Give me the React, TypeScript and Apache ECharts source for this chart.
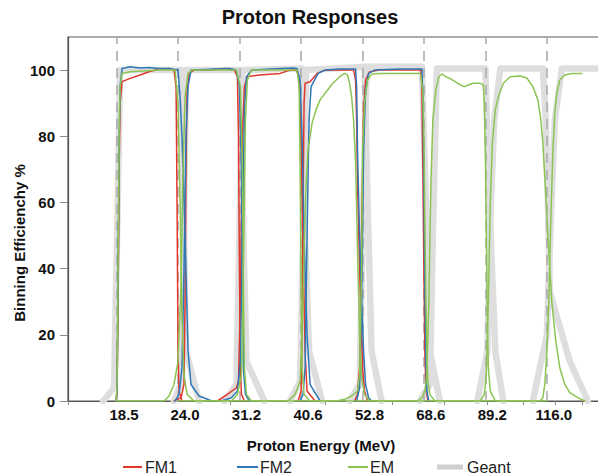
import { useEffect, useRef } from 'react';
import * as echarts from 'echarts';

const FONT = '"Liberation Sans", Arial, sans-serif';

const boundaryEnergies = [18.5, 24.0, 31.2, 40.6, 52.8, 68.6, 89.2, 116.0];
const boundaryLabels = ['18.5', '24.0', '31.2', '40.6', '52.8', '68.6', '89.2', '116.0'];
const xTickValues = [15, 30, 45, 60, 75, 90, 105, 120, 135];
const yTickValues = [0, 20, 40, 60, 80, 100];

// FM1 (red) – one curve per energy channel: [MeV, %]
const fm1A = [[18.42,0],[18.5,3],[18.58,30],[18.66,70],[18.74,90],[18.9,96.5],[19.56,97.5],[20.41,98.5],[21.2,99.5],[22.13,100.3],[23.1,100.5],[23.59,100],[23.8,95],[23.9,60],[24.0,15],[24.1,3],[24.41,0]];
const fm1B = [[23.59,0],[24.31,1],[24.62,5],[24.73,30],[24.83,70],[24.94,93],[25.15,99],[25.7,100],[27.45,100],[29.26,100.5],[30.54,100],[30.93,98],[31.07,80],[31.2,40],[31.33,10],[31.47,2],[31.87,0]];
const fm1C = [[28.4,0],[29.64,2],[30.8,4],[31.07,6],[31.33,30],[31.6,80],[31.87,95],[32.28,98],[33.98,98.5],[37.12,99],[38.74,100],[39.74,100],[40.26,98],[40.6,80],[40.95,45],[41.3,15],[41.65,3],[43.1,0]];
const fm1D = [[40.08,0],[40.6,3],[40.77,20],[40.95,60],[41.12,90],[41.3,96],[42.19,96.5],[43.47,99],[44.98,100],[47.86,100],[50.81,100],[51.25,97],[51.47,85],[51.68,65],[52.13,40],[52.58,20],[52.8,10],[53.25,3],[53.94,0]];
const fm1E = [[51.03,0],[51.68,2],[52.13,10],[52.58,50],[53.03,88],[53.48,97],[54.4,99.5],[56.78,100],[61.92,100],[67.73,100],[68.02,95],[68.31,70],[68.6,40],[68.89,15],[69.19,4],[69.78,0]];

// FM2 (blue)
const fm2A = [[18.42,0],[18.5,4],[18.58,35],[18.66,78],[18.74,95],[18.9,100.5],[19.56,101],[20.41,100.6],[21.2,100.8],[22.13,100.5],[23.1,100.5],[24.0,100],[24.21,92],[24.41,80],[24.73,50],[25.05,15],[25.37,5],[26.25,1.5],[27.75,0]];
const fm2B = [[23.7,0],[24.1,2],[24.41,10],[24.62,40],[24.83,80],[25.05,95],[25.37,100],[29.9,100.5],[30.8,100],[31.2,95],[31.47,70],[31.6,35],[31.73,10],[32.01,2],[32.56,0]];
const fm2C = [[28.89,0],[30.15,1],[30.93,3],[31.33,12],[31.6,50],[31.87,88],[32.15,98],[32.84,100],[35.5,100.3],[39.24,100.6],[39.91,100.5],[40.43,97],[40.77,80],[41.12,50],[41.65,20],[42.19,5],[44.03,0]];
const fm2D = [[40.43,0],[40.95,2],[41.3,10],[41.65,50],[42.01,85],[42.37,95],[43.66,99],[44.98,100],[47.86,100.3],[51.25,100.3],[51.47,95],[51.68,75],[52.13,50],[52.58,30],[53.03,15],[53.48,5],[54.17,1],[54.87,0]];
const fm2E = [[51.47,0],[52.13,4],[52.58,30],[53.03,75],[53.48,94],[54.17,99],[55.58,100],[61.92,100.3],[68.02,100.3],[68.31,92],[68.6,65],[68.89,35],[69.19,12],[69.48,3],[70.08,0]];

// EM (green)
const emA = [[18.42,0],[18.5,5],[18.58,40],[18.66,80],[18.74,95],[18.9,99],[19.56,99.5],[22.13,100],[23.7,100],[24.0,90],[24.21,60],[24.41,25],[24.62,8],[24.94,2],[25.7,0],[31.2,0]];
const emB = [[18.5,0],[22.61,0],[23.1,1.5],[23.59,5],[24.0,12],[24.31,35],[24.52,70],[24.73,92],[25.05,99],[25.48,100],[30.8,100],[31.33,95],[31.6,70],[31.73,35],[31.87,10],[32.15,2],[32.84,0],[40.6,0]];
const emC = [[24.0,0],[30.15,0],[30.93,2],[31.47,8],[31.73,40],[32.01,85],[32.28,97],[32.84,100],[39.91,100],[40.26,95],[40.43,70],[40.6,35],[40.77,10],[41.12,2],[42.19,0],[52.8,0]];
const emD = [[31.2,0],[38.41,0],[39.57,2],[40.43,6],[40.77,20],[41.12,45],[41.46,65],[41.83,76],[42.55,84],[43.29,88],[44.03,91],[44.98,93],[46.5,96],[47.86,98],[48.89,99],[49.52,98.5],[49.95,96],[50.38,92],[50.81,85],[51.25,72],[51.68,45],[52.13,20],[52.58,7],[53.25,2],[54.4,0],[68.6,0]];
const emE = [[40.6,0],[47.25,0],[48.89,0.5],[50.38,1.5],[51.68,3],[52.13,8],[52.58,40],[52.8,75],[53.25,90],[53.94,97],[54.87,98.8],[56.78,99],[67.44,99],[67.73,98.5],[68.31,93],[68.6,80],[68.89,55],[69.19,32],[69.48,15],[69.78,6],[70.38,2],[71.9,0],[89.2,0]];
const emF = [[52.8,0],[66.87,0],[68.02,1],[68.89,3],[69.48,8],[70.08,30],[70.68,65],[71.29,85],[72.21,94],[73.14,98],[74.08,98.8],[75.36,98],[76.65,97.5],[78.4,96.5],[80.17,95.5],[81.55,95],[82.96,95.5],[84.75,96],[87.32,96],[88.44,95.5],[88.82,90],[89.2,75],[89.58,50],[89.97,25],[90.35,10],[91.12,3],[93.09,0],[116,0]];
const emG = [[68.6,0],[87.32,0],[88.82,2],[89.58,8],[90.35,30],[91.12,60],[91.91,78],[93.09,88],[94.29,92],[96.33,96],[99.15,98],[103.37,98.2],[106.51,97.6],[109.27,95],[111.63,91],[113.07,85],[114.04,78],[115.51,62],[117.0,45],[118.5,30],[120.54,18],[122.62,10],[125.27,5],[127.97,2.5],[132.42,1],[136.44,0]];
const emH = [[89.2,0],[112.59,0],[114.04,1],[115.01,5],[116,15],[117,30],[118,55],[119.01,75],[120.03,87],[121.06,93],[122.62,97],[125.27,98.5],[129.07,99],[134.7,99]];

// Geant (thick grey)
const geA = [[17.43,0],[18.26,4],[18.5,50],[18.74,100],[24.31,100],[24.62,50],[24.83,15],[26.25,0]];
const geB = [[23.59,0],[24.41,6],[24.62,50],[24.83,100],[31.33,100],[31.73,50],[32.15,12],[34.71,0]];
const geC = [[29.26,0],[30.8,5],[31.2,50],[31.6,100],[40.77,100.5],[41.3,50],[42.01,15],[44.41,0]];
const geD = [[38.74,0],[40.43,6],[40.95,50],[41.46,100],[53.25,101],[53.94,60],[54.87,15],[57.26,0]];
const geE = [[49.95,0],[52.13,5],[52.8,50],[53.71,101],[68.02,101],[69.19,60],[70.38,15],[73.45,0]];
const geF = [[67.44,0],[70.38,5],[71.29,50],[72.52,100.5],[89.2,100.5],[90.74,60],[93.09,15],[96.33,0]];
const geG = [[86.2,0],[89.97,15],[91.12,55],[92.69,85],[95.1,100.5],[114.04,100.5],[115.51,85],[116.5,60],[117.49,33],[127.97,12],[138.19,0]];
const geH = [[109.27,0],[116,20],[118,55],[120.03,85],[123.67,100.5],[150,100.5]];

const fm1Channels = [fm1A, fm1B, fm1C, fm1D, fm1E];
const fm2Channels = [fm2A, fm2B, fm2C, fm2D, fm2E];
const emChannels = [emA, emB, emC, emD, emE, emF, emG, emH];
const geantChannels = [geA, geB, geC, geD, geE, geF, geG, geH];

const COLORS = { FM1: '#e2372c', FM2: '#2f78b8', EM: '#8cc453', Geant: '#dedede' };

function makeSeries(name: string, data: number[][], color: string, width: number, z: number) {
  return {
    type: 'line',
    name,
    data,
    xAxisIndex: 0,
    yAxisIndex: 0,
    showSymbol: false,
    symbol: 'none',
    silent: true,
    clip: true,
    z,
    lineStyle: { color, width, join: 'round', cap: 'round' },
    itemStyle: { color },
  };
}

export default function App() {
  const ref = useRef<HTMLDivElement>(null);

  useEffect(() => {
    if (!ref.current) return;
    const chart = echarts.init(ref.current, undefined, { renderer: 'svg' });

    const series: any[] = [];
    geantChannels.forEach((d) => series.push(makeSeries('Geant', d, COLORS.Geant, 6.5, 1)));
    series.push({
      type: 'line',
      name: 'bins',
      data: [],
      xAxisIndex: 0,
      yAxisIndex: 0,
      silent: true,
      z: 2,
      markLine: {
        silent: true,
        z: 2,
        symbol: ['none', 'none'],
        label: { show: false },
        lineStyle: { type: [10, 7], color: '#a9a9a9', width: 1.5 },
        data: boundaryEnergies.map((e) => ({ xAxis: e })),
      },
    });
    fm1Channels.forEach((d) => series.push(makeSeries('FM1', d, COLORS.FM1, 1.5, 3)));
    fm2Channels.forEach((d) => series.push(makeSeries('FM2', d, COLORS.FM2, 1.5, 4)));
    emChannels.forEach((d) => series.push(makeSeries('EM', d, COLORS.EM, 1.5, 5)));

    const labelFor = (v: number) => {
      const i = boundaryEnergies.findIndex((b) => Math.abs(Math.log10(b) - v) < 1e-6);
      return i >= 0 ? boundaryLabels[i] : '';
    };

    const legendItems = [
      { name: 'FM1', x1: 123, x2: 142, tx: 145, color: COLORS.FM1, w: 2 },
      { name: 'FM2', x1: 237, x2: 258, tx: 260, color: COLORS.FM2, w: 2 },
      { name: 'EM', x1: 348, x2: 368, tx: 370, color: COLORS.EM, w: 2 },
      { name: 'Geant', x1: 437, x2: 463, tx: 467, color: '#cfcfcf', w: 5 },
    ];
    const legendGraphics: any[] = [];
    legendItems.forEach((it) => {
      legendGraphics.push({
        type: 'line',
        shape: { x1: it.x1, y1: 467, x2: it.x2, y2: 467 },
        style: { stroke: it.color, lineWidth: it.w },
        silent: true,
      });
      legendGraphics.push({
        type: 'text',
        x: it.tx,
        y: 467,
        style: { text: it.name, fill: '#222', font: `16px ${FONT}`, align: 'left', verticalAlign: 'middle' },
        silent: true,
      });
    });

    chart.setOption({
      animation: false,
      backgroundColor: '#ffffff',
      grid: {
        left: 68,
        right: -9,
        top: 37,
        bottom: 75,
        show: true,
        borderColor: '#5a5a5a',
        borderWidth: 1.2,
        backgroundColor: 'transparent',
        containLabel: false,
        outerBoundsMode: 'none',
      },
      xAxis: [
        { type: 'log', logBase: 10, min: 15, max: 150, show: false, gridIndex: 0 },
        {
          type: 'value',
          gridIndex: 0,
          position: 'bottom',
          min: Math.log10(15),
          max: Math.log10(150),
          axisLine: { show: true, onZero: false, lineStyle: { color: '#555', width: 1.2 } },
          axisTick: { show: true, customValues: xTickValues.map((v) => Math.log10(v)), length: 4, lineStyle: { color: '#888' } },
          axisLabel: {
            show: true,
            customValues: boundaryEnergies.map((v) => Math.log10(v)),
            formatter: (v: number) => labelFor(v),
            fontFamily: FONT,
            fontWeight: 'bold',
            fontSize: 15,
            color: '#111',
            margin: 6,
            padding: [0, 0, 0, 14],
          },
          splitLine: { show: false },
        },
      ],
      yAxis: {
        type: 'value',
        min: 0,
        max: 110,
        axisLine: { show: true, lineStyle: { color: '#555', width: 1.2 } },
        axisTick: { show: true, customValues: yTickValues, length: 8, lineStyle: { color: '#888' } },
        axisLabel: {
          customValues: yTickValues,
          fontFamily: FONT,
          fontWeight: 'bold',
          fontSize: 15,
          color: '#111',
          margin: 13,
        },
        splitLine: { show: false },
      },
      graphic: [
        {
          type: 'text',
          x: 310,
          y: 17,
          style: { text: 'Proton Responses', fill: '#111', font: `bold 20px ${FONT}`, align: 'center', verticalAlign: 'middle' },
          silent: true,
        },
        {
          type: 'text',
          x: 19,
          y: 243,
          rotation: Math.PI / 2,
          style: { text: 'Binning Efficienchy %', fill: '#111', font: `bold 15px ${FONT}`, align: 'center', verticalAlign: 'middle' },
          silent: true,
        },
        {
          type: 'text',
          x: 321,
          y: 445,
          style: { text: 'Proton Energy (MeV)', fill: '#111', font: `bold 15px ${FONT}`, align: 'center', verticalAlign: 'middle' },
          silent: true,
        },
        ...legendGraphics,
      ],
      series,
    });

    return () => chart.dispose();
  }, []);

  return (
    <div
      ref={ref}
      style={{ position: 'fixed', left: 0, top: 0, width: 598, height: 476, background: '#fff' }}
    />
  );
}
